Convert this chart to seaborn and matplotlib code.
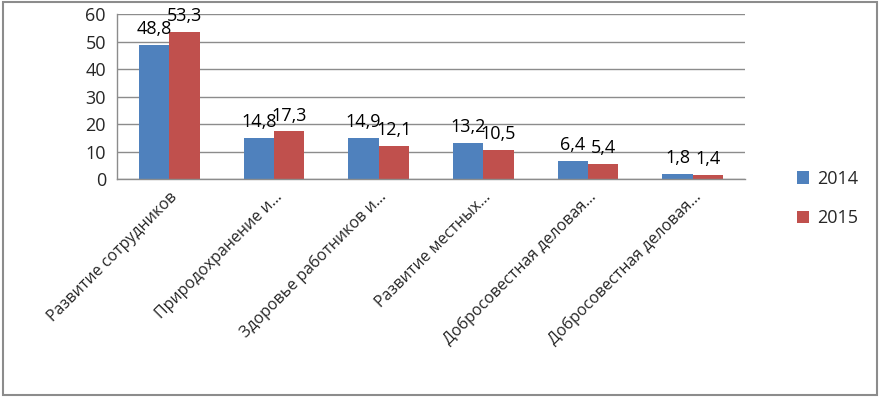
import numpy as np
import pandas as pd
import matplotlib
matplotlib.use('Agg')
import matplotlib.pyplot as plt
import seaborn as sns
from matplotlib.patches import Rectangle

# Chart data
categories = ['Развитие сотрудников', 'Природохранение и...', 'Здоровье работников и...',
              'Развитие местных...', 'Добросовестная деловая...', 'Добросовестная деловая...']
years = ['2014', '2015']
values_2014 = [48.8, 14.8, 14.9, 13.2, 6.4, 1.8]
values_2015 = [53.3, 17.3, 12.1, 10.5, 5.4, 1.4]
colors = ['#4F81BD', '#C0504D']

# long table; category codes keep the two identical labels apart
codes = [str(i) for i in range(len(categories))]
df = pd.DataFrame({
    'cat': codes * 2,
    'year': [years[0]] * len(codes) + [years[1]] * len(codes),
    'value': values_2014 + values_2015,
})

sns.set_style('white')
plt.rcParams['font.family'] = ['Open Sans', 'DejaVu Sans']

fig = plt.figure(figsize=(8.81, 3.97), dpi=100)
ax = fig.add_axes([0.1328, 0.549, 0.7128, 0.4157])

sns.barplot(data=df, x='cat', y='value', hue='year', order=codes, hue_order=years,
            palette=colors, width=0.58, saturation=1, linewidth=0, ax=ax, legend=True)

# value labels with comma decimal
for cont in ax.containers:
    ax.bar_label(cont, labels=[f'{v:.1f}'.replace('.', ',') for v in cont.datavalues],
                 padding=5, fontsize=13, color='black')

ax.set_ylim(0, 60)
ax.set_yticks(range(0, 61, 10))
ax.set_xlim(-0.5, len(categories) - 0.5)
ax.yaxis.grid(True, color='#8C8C8C', linewidth=1)
ax.set_axisbelow(True)
ax.set_xlabel('')
ax.set_ylabel('')
ax.tick_params(axis='y', labelsize=13, length=5, color='#8C8C8C', pad=3)

# category labels, tick marks between categories
ax.set_xticks(range(len(categories)))
ax.set_xticklabels(categories, rotation=45, ha='right', rotation_mode='anchor', fontsize=11.5)
ax.tick_params(axis='x', which='major', length=0, pad=7)
ax.set_xticks(np.arange(-0.5, len(categories), 1), minor=True)
ax.tick_params(axis='x', which='minor', length=5, color='#8C8C8C', direction='out')

for side in ['top', 'right']:
    ax.spines[side].set_visible(False)
for side in ['left', 'bottom']:
    ax.spines[side].set_color('#8C8C8C')
    ax.spines[side].set_linewidth(1)

# legend on the right
handles, labels = ax.get_legend_handles_labels()
ax.legend_.remove()
fig.legend(handles, labels, loc='center left', bbox_to_anchor=(0.886, 0.50),
           frameon=False, fontsize=13, handlelength=0.7, handleheight=0.7,
           handletextpad=0.4, labelspacing=1.2)

# outer chart border
fig.patches.append(Rectangle((0.003, 0.006), 0.993, 0.988, transform=fig.transFigure,
                             fill=False, edgecolor='#8C8C8C', linewidth=1.5))

fig.savefig('out.png', dpi=100)
